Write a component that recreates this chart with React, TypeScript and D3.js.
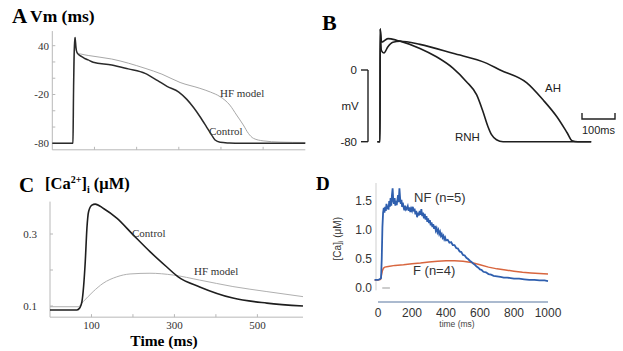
import React from "react";
import * as d3 from "d3";

// ---- panel A: action potential (t ms, mV)
const apControl: [number, number][] = [
  [0, -80], [49, -80], [50.5, -10], [52.5, 40], [54, 50], [56, 38], [59, 31], [64, 28.5],
  [70, 26.5], [78, 24], [85, 22.5], [97, 19.6], [141, 16.4], [180, 11.5], [220, 6],
  [250, -3], [272, -10], [300, -17], [319, -26], [335, -36], [350, -47], [366, -60],
  [378, -70], [386, -76], [398, -78.8], [420, -79.6], [445, -80], [600, -80],
];
const apHF: [number, number][] = [
  [0, -80], [49, -80], [50.5, -10], [52.5, 40], [54, 50], [56, 38], [59, 31.4], [70, 29.5],
  [85, 28], [141, 23.6], [220, 12.2], [260, 5], [303, -5.2], [350, -12.4], [375, -17],
  [398, -22.7], [421, -33], [437, -45.2], [453, -57.5], [465, -67.8], [477, -73.9],
  [500, -77], [540, -78.5], [600, -79],
];
const apYTicks = [-80, -60, -40, -20, 0, 20, 40];
const apYLabels = [40, -20, -80];
const timeTicks = [100, 200, 300, 400, 500];

// ---- panel B: recorded APs (t ms, mV)
const bAH: [number, number][] = [
  [-8, -80], [0, -80], [0.5, 46], [4, 22], [12, 19], [24, 26], [39, 31], [61, 32],
  [121, 28.6], [221, 18.6], [324, 7.4], [364, 0], [445, -14.4], [494, -33.3],
  [536, -52.2], [567, -70], [582, -79], [600, -80], [640, -80],
];
const bRNH: [number, number][] = [
  [-8, -80], [0, -80], [0.5, 46], [5, 31], [24, 35], [50, 33.3], [61, 32.2], [121, 24.1],
  [171, 14.8], [221, 2.2], [262, -13], [293, -27.8], [312, -46.3], [327, -63],
  [338, -72.2], [353, -77.8], [373, -80], [640, -80],
];

// ---- panel C: model calcium transient (t ms, uM)
const caControl: [number, number][] = [
  [0, 0.089], [65, 0.089], [72, 0.095], [77, 0.112], [85, 0.223], [89, 0.316], [93, 0.362],
  [101, 0.38], [109, 0.383], [129, 0.371], [161, 0.344], [201, 0.297], [241, 0.251],
  [281, 0.209], [309, 0.181], [361, 0.153], [441, 0.122], [523, 0.108], [610, 0.1],
];
const caHF: [number, number][] = [
  [0, 0.098], [68, 0.098], [80, 0.112], [104, 0.14], [128, 0.163], [161, 0.181],
  [193, 0.189], [241, 0.191], [297, 0.186], [361, 0.172], [441, 0.154], [523, 0.14],
  [610, 0.126],
];
const caYTicks = [0.1, 0.2, 0.3];
const caYLabels = [0.1, 0.3];
const caXLabels = [100, 300, 500];

// ---- panel D: measured calcium (t ms, uM)
const nfTrace: [number, number][] = [
  [-20, 0.14], [0, 0.14], [10, 0.15], [18, 0.17], [22, 0.5], [26, 1.05], [30, 1.3], [34, 1.38],
  [38, 1.3], [42, 1.4], [46, 1.33], [50, 1.45], [54, 1.36], [58, 1.42], [62, 1.35], [66, 1.5],
  [70, 1.4], [74, 1.55], [78, 1.42], [82, 1.6], [86, 1.72], [90, 1.5], [94, 1.45], [98, 1.55],
  [102, 1.42], [106, 1.5], [110, 1.43], [114, 1.52], [118, 1.6], [122, 1.48], [126, 1.72],
  [130, 1.55], [134, 1.45], [138, 1.52], [142, 1.4], [146, 1.47], [150, 1.4], [155, 1.34],
  [160, 1.42], [165, 1.35], [170, 1.37], [175, 1.41], [180, 1.33], [185, 1.39], [190, 1.31],
  [195, 1.37], [200, 1.33], [205, 1.4], [210, 1.32], [215, 1.37], [220, 1.27], [225, 1.33],
  [230, 1.22], [235, 1.3], [240, 1.25], [245, 1.33], [250, 1.26], [255, 1.36], [260, 1.24],
  [265, 1.3], [270, 1.2], [275, 1.28], [280, 1.18], [285, 1.24], [290, 1.14], [295, 1.2],
  [300, 1.12], [305, 1.17], [310, 1.08], [315, 1.13], [320, 1.05], [325, 1.1], [330, 1.02],
  [335, 1.07], [340, 0.99], [345, 1.03], [350, 0.96], [355, 1.0], [360, 0.93], [365, 0.97],
  [370, 0.9], [375, 0.93], [380, 0.87], [385, 0.9], [390, 0.84], [395, 0.87], [400, 0.82],
  [410, 0.83], [420, 0.78], [430, 0.79], [440, 0.74], [450, 0.74], [460, 0.69], [470, 0.68],
  [480, 0.63], [490, 0.62], [500, 0.57], [510, 0.56], [520, 0.52], [530, 0.5], [540, 0.47],
  [550, 0.45], [560, 0.42], [570, 0.4], [580, 0.37], [590, 0.35], [600, 0.32], [610, 0.31],
  [620, 0.28], [635, 0.27], [650, 0.24], [665, 0.23], [680, 0.21], [700, 0.2], [720, 0.19],
  [740, 0.18], [760, 0.18], [780, 0.17], [800, 0.16], [830, 0.16], [860, 0.15], [890, 0.14],
  [920, 0.14], [950, 0.13], [980, 0.13], [1000, 0.12],
];
const fTrace: [number, number][] = [
  [-20, 0.14], [0, 0.14], [15, 0.15], [20, 0.22], [26, 0.3], [32, 0.34], [40, 0.36],
  [60, 0.37], [100, 0.39], [150, 0.4], [200, 0.42], [250, 0.43], [300, 0.45], [350, 0.46],
  [400, 0.47], [450, 0.47], [500, 0.46], [550, 0.44], [600, 0.4], [650, 0.36], [700, 0.33],
  [750, 0.31], [800, 0.29], [850, 0.27], [900, 0.26], [950, 0.25], [1000, 0.24],
];
const stimBar = [25, 70];
const dXTicks = [0, 200, 400, 600, 800, 1000];
const dYTicks = [0, 0.5, 1.0, 1.5];

const SERIF = "'Liberation Serif', 'Times New Roman', serif";
const SANS = "'Liberation Sans', Arial, sans-serif";

export default function App() {
  // A
  const xA = d3.scaleLinear().domain([0, 600]).range([52.3, 305.3]);
  const yA = d3.scaleLinear().domain([-80, 40]).range([143.3, 45.7]);
  const lineA = d3.line<[number, number]>().x(d => xA(d[0])).y(d => yA(d[1])).curve(d3.curveMonotoneX);
  // B
  const xB = d3.scaleLinear().domain([0, 640]).range([380, 591.2]);
  const yB = d3.scaleLinear().domain([-80, 0]).range([141.7, 70]);
  const lineB = d3.line<[number, number]>().x(d => xB(d[0])).y(d => yB(d[1])).curve(d3.curveMonotoneX);
  const barLen = xB(100) - xB(0);
  // C
  const xC = d3.scaleLinear().domain([0, 610]).range([50, 303]);
  const yC = d3.scaleLinear().domain([0.1, 0.3]).range([306, 234]);
  const lineC = d3.line<[number, number]>().x(d => xC(d[0])).y(d => yC(d[1])).curve(d3.curveMonotoneX);
  // D
  const xD = d3.scaleLinear().domain([0, 1000]).range([378, 548]);
  const yD = d3.scaleLinear().domain([0, 1.5]).range([288, 201]);
  const lineD = d3.line<[number, number]>().x(d => xD(d[0])).y(d => yD(d[1]));

  const axisGray = "#b8b8b8";

  return (
    <svg width={623} height={351} style={{ position: "absolute", left: 0, top: 0, background: "#fff" }}>
      {/* ---------- A ---------- */}
      <text x={12} y={22.5} fontFamily={SERIF} fontWeight="bold" fontSize={21}>A</text>
      <text x={30} y={22} fontFamily={SERIF} fontWeight="bold" fontSize={17.5}>Vm (ms)</text>
      <line x1={xA(0)} x2={xA(0)} y1={yA(58)} y2={yA(-88)} stroke={axisGray} />
      <line x1={xA(0)} x2={xA(600)} y1={yA(-88)} y2={yA(-88)} stroke={axisGray} />
      {apYTicks.map(t => (
        <line key={t} x1={xA(0)} x2={xA(0) + 3} y1={yA(t)} y2={yA(t)} stroke={axisGray} />
      ))}
      {timeTicks.map(t => (
        <line key={t} x1={xA(t)} x2={xA(t)} y1={yA(-88)} y2={yA(-88) - 3} stroke={axisGray} />
      ))}
      {apYLabels.map(t => (
        <text key={t} x={49} y={yA(t)} dy="0.35em" textAnchor="end" fontFamily={SERIF} fontSize={11} fill="#333">{t}</text>
      ))}
      <path d={lineA(apHF) || ""} fill="none" stroke="#a8a8a8" strokeWidth={1} />
      <path d={lineA(apControl) || ""} fill="none" stroke="#2a2a2a" strokeWidth={1.5} />
      <text x={220} y={97} fontFamily={SERIF} fontSize={11} fill="#333">HF model</text>
      <text x={209} y={134.5} fontFamily={SERIF} fontSize={11} fill="#333">Control</text>

      {/* ---------- B ---------- */}
      <text x={322} y={30} fontFamily={SERIF} fontWeight="bold" fontSize={22}>B</text>
      <line x1={368} x2={368} y1={yB(0)} y2={yB(-80)} stroke="#222" strokeWidth={1.4} />
      <line x1={361} x2={368} y1={yB(0)} y2={yB(0)} stroke="#222" strokeWidth={1.4} />
      <line x1={361} x2={368} y1={yB(-80)} y2={yB(-80)} stroke="#222" strokeWidth={1.4} />
      <text x={357} y={yB(0)} dy="0.35em" textAnchor="end" fontFamily={SANS} fontSize={11.5} fill="#222">0</text>
      <text x={350} y={yB(-40)} dy="0.35em" textAnchor="middle" fontFamily={SANS} fontSize={11.5} fill="#222">mV</text>
      <text x={357} y={yB(-80)} dy="0.35em" textAnchor="end" fontFamily={SANS} fontSize={11.5} fill="#222">-80</text>
      <path d={lineB(bRNH) || ""} fill="none" stroke="#1e1e1e" strokeWidth={1.6} />
      <path d={lineB(bAH) || ""} fill="none" stroke="#1e1e1e" strokeWidth={1.6} />
      <text x={545} y={92} fontFamily={SANS} fontSize={11.5} fill="#222">AH</text>
      <text x={455} y={141} fontFamily={SANS} fontSize={11.5} fill="#222">RNH</text>
      <path d={`M582,113V119H${582 + barLen}V113`} fill="none" stroke="#222" strokeWidth={1.4} />
      <text x={582 + barLen / 2} y={134} textAnchor="middle" fontFamily={SANS} fontSize={11} fill="#222">100ms</text>

      {/* ---------- C ---------- */}
      <text x={19} y={192} fontFamily={SERIF} fontWeight="bold" fontSize={21}>C</text>
      <text x={45} y={189} fontFamily={SERIF} fontWeight="bold" fontSize={16.5}>
        [Ca<tspan fontSize={10} dy={-6}>2+</tspan><tspan dy={6}>]</tspan>
        <tspan fontSize={10} dy={4}>i</tspan><tspan dy={-4}> (μM)</tspan>
      </text>
      <line x1={xC(0)} x2={xC(0)} y1={yC(0.39)} y2={yC(0.069)} stroke={axisGray} />
      <line x1={xC(0)} x2={xC(610)} y1={yC(0.069)} y2={yC(0.069)} stroke={axisGray} />
      {caYTicks.map(t => (
        <line key={t} x1={xC(0)} x2={xC(0) + 3} y1={yC(t)} y2={yC(t)} stroke={axisGray} />
      ))}
      {timeTicks.map(t => (
        <line key={t} x1={xC(t)} x2={xC(t)} y1={yC(0.069)} y2={yC(0.069) - 3} stroke={axisGray} />
      ))}
      {caYLabels.map(t => (
        <text key={t} x={37} y={yC(t)} dy="0.35em" textAnchor="end" fontFamily={SERIF} fontSize={11} fill="#333">{t.toFixed(1)}</text>
      ))}
      {caXLabels.map(t => (
        <text key={t} x={xC(t)} y={329} textAnchor="middle" fontFamily={SERIF} fontSize={11} fill="#333">{t}</text>
      ))}
      <text x={164} y={346} textAnchor="middle" fontFamily={SERIF} fontWeight="bold" fontSize={15.5}>Time (ms)</text>
      <path d={lineC(caHF) || ""} fill="none" stroke="#b0b0b0" strokeWidth={1} />
      <path d={lineC(caControl) || ""} fill="none" stroke="#1e1e1e" strokeWidth={1.6} />
      <text x={132} y={237} fontFamily={SERIF} fontSize={11} fill="#333">Control</text>
      <text x={194} y={275} fontFamily={SERIF} fontSize={11} fill="#333">HF model</text>

      {/* ---------- D ---------- */}
      <text x={316} y={190} fontFamily={SERIF} fontWeight="bold" fontSize={19}>D</text>
      <line x1={376} x2={376} y1={183} y2={yD(-0.04)} stroke="#cfcfcf" />
      <line x1={xD(0)} x2={xD(1000)} y1={302} y2={302} stroke="#8fa3bf" strokeWidth={1.3} />
      {dYTicks.map(t => (
        <text key={t} x={372} y={yD(t)} dy="0.35em" textAnchor="end" fontFamily={SANS} fontSize={12} fill="#333">{t.toFixed(1)}</text>
      ))}
      {dXTicks.map(t => (
        <text key={t} x={xD(t)} y={316.5} textAnchor="middle" fontFamily={SANS} fontSize={12} fill="#333">{t}</text>
      ))}
      <text x={457} y={327} textAnchor="middle" fontFamily={SANS} fontSize={8.5} fill="#444">time (ms)</text>
      <text transform={`translate(341,${yD(0.85)}) rotate(-90)`} textAnchor="middle" fontFamily={SANS} fontSize={10} fill="#333">
        [Ca]<tspan fontSize={7} dy={2}>i</tspan><tspan dy={-2}> (μM)</tspan>
      </text>
      <line x1={xD(stimBar[0])} x2={xD(stimBar[1])} y1={yD(0)} y2={yD(0)} stroke="#aaa" strokeWidth={1.2} />
      <path d={lineD(fTrace) || ""} fill="none" stroke="#d8663f" strokeWidth={1.5} />
      <path d={lineD(nfTrace) || ""} fill="none" stroke="#2f5fae" strokeWidth={1.8} />
      <text x={414} y={202} fontFamily={SANS} fontSize={13} fill="#333">NF (n=5)</text>
      <text x={413} y={275} fontFamily={SANS} fontSize={13} fill="#333">F (n=4)</text>
    </svg>
  );
}
